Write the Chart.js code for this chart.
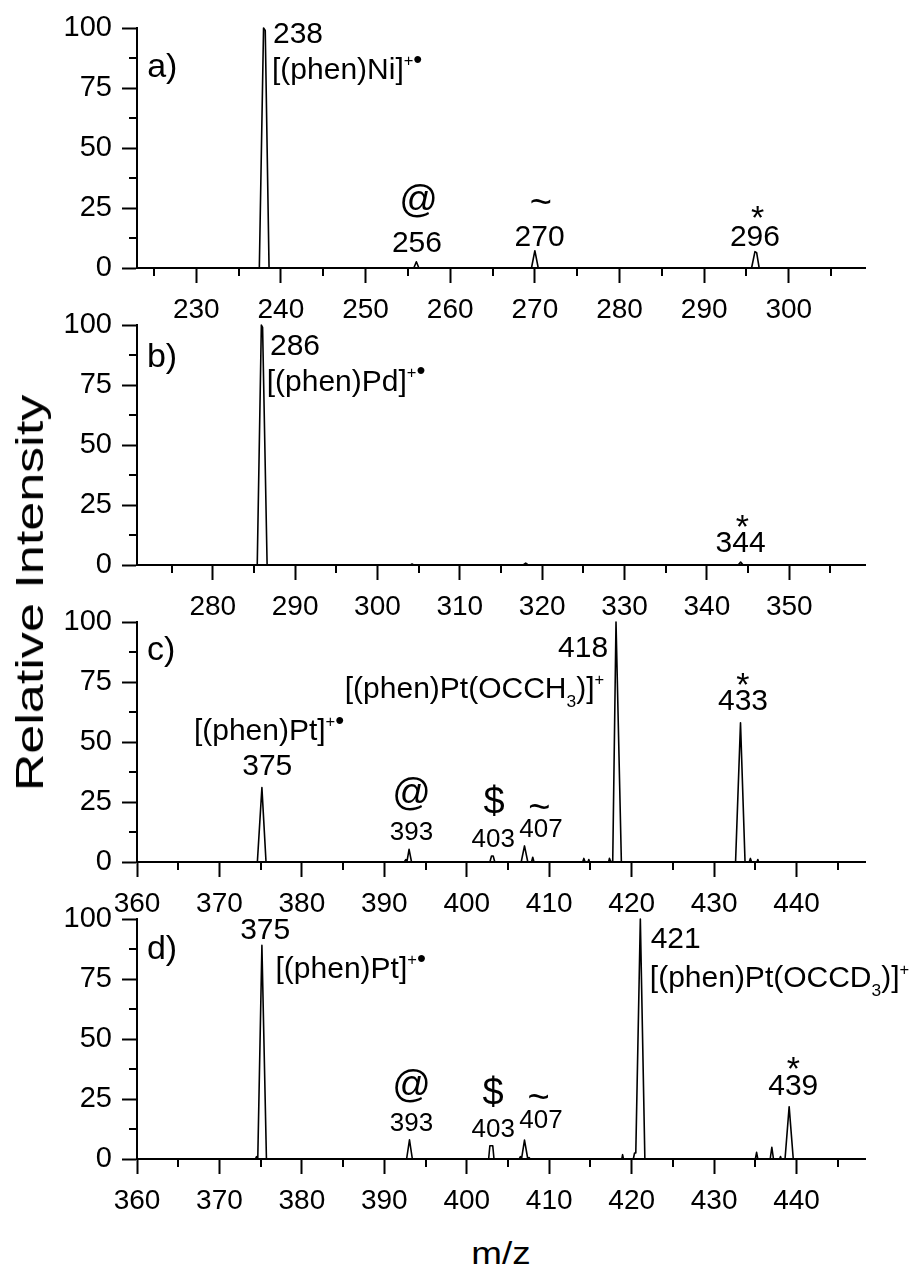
<!DOCTYPE html>
<html>
<head>
<meta charset="utf-8">
<script src="https://cdn.jsdelivr.net/npm/chart.js@4.4.0/dist/chart.umd.min.js"></script>
<style>
  body { margin: 0; background: #fff; }
  #wrap { position: relative; width: 919px; height: 1270px; font-family: "Liberation Sans", Arial, sans-serif; color: #000; }
  canvas { position: absolute; left: 0; }
  #ylab { position: absolute; left: 30px; top: 593px; font-size: 38px; line-height: 1; white-space: nowrap;
          transform: translate(-50%, -50%) rotate(-90deg) scaleX(1.37); }
  #xlab { position: absolute; left: 501px; top: 1237px; font-size: 32px; line-height: 1; white-space: nowrap;
          transform: translateX(-50%) scaleX(1.15); }
</style>
</head>
<body>
<div id="wrap">
  <canvas id="pa" width="919" height="328" style="top:0px"></canvas>
  <canvas id="pb" width="919" height="328" style="top:297px"></canvas>
  <canvas id="pc" width="919" height="328" style="top:594px"></canvas>
  <canvas id="pd" width="919" height="328" style="top:891px"></canvas>
  <div id="ylab">Relative Intensity</div>
  <div id="xlab">m/z</div>
</div>
<script>
const FONT = '"Liberation Sans", Arial, sans-serif';

// spectrum a) (phen)Ni
const mzA  = [223, 237.45, 237.95, 238.15, 238.6, 255.7, 256.0, 256.3, 269.6, 270.0, 270.4, 295.6, 296.0, 296.2, 296.5, 309];
const intA = [0,   0,      100,    99,     0,     0,     2.6,   0,     0,     7.2,   0,     0,     6.8,   6.4,   0,     0];

// spectrum b) (phen)Pd
const mzB  = [270.8, 285.4, 285.9, 286.05, 286.6, 304.0, 304.2, 304.4, 317.7, 318.0, 318.3, 343.8, 344.1, 344.4, 359.2];
const intB = [0,     0,     100,   99,     0,     0,     0.4,   0,     0,     0.8,   0,     0,     1.2,   0,     0];

// spectrum c) (phen)Pt + acetone
const mzC  = [360, 374.6, 375.15, 375.65, 392.4, 392.6, 392.75, 393.0, 393.3, 402.8, 403.0, 403.2, 403.4,
              406.6, 407.0, 407.4, 407.85, 408.0, 408.15, 414.05, 414.2, 414.35, 414.7, 414.8, 414.9,
              417.2, 417.3, 417.45, 417.7, 418.1, 418.75, 432.6, 433.2, 433.75, 434.25, 434.4, 434.55,
              435.2, 435.3, 435.4, 448.3];
const intC = [0,   0,     31,     0,      0,     1,     0.4,    5.3,   0,     0,     2.5,   2.5,   0,
              0,     6.7,   0,     0,      2,     0,      0,      1.5,   0,      0,     1,     0,
              0,     1.5,   0.3,    0,     100,   0,      0,     58,    0,      0,      1.5,   0,
              0,     1,     0,     0];

// spectrum d) (phen)Pt + acetone-d6
const mzD  = [360, 374.35, 374.5, 374.65, 375.15, 375.7, 392.7, 393.05, 393.4, 402.65, 402.8, 403.15, 403.3,
              406.35, 406.5, 406.65, 407.0, 407.4, 407.55, 407.7, 418.8, 418.9, 419.0, 420.2, 420.35, 420.5,
              421.05, 421.6, 435.0, 435.15, 435.3, 436.8, 437.0, 437.2, 437.95, 438.05, 438.15, 438.6,
              439.1, 439.6, 448.3];
const intD = [0,   0,      1,     0.4,    89,     0,     0,     8,      0,     0,      5.5,   5.5,    0,
              0,      1,     0.3,    7.9,   0,     0.6,    0,     0,     1.8,   0,     0,     2.5,    2.5,
              100,   0,     0,     2.8,    0,     0,     4.9,   0,     0,      1,      0,      0,
              21.8,  0,     0];

// axis ticks
const xTicksA = [230, 240, 250, 260, 270, 280, 290, 300];
const xMinorA = [225, 235, 245, 255, 265, 275, 285, 295, 305];
const xTicksB = [280, 290, 300, 310, 320, 330, 340, 350];
const xMinorB = [275, 285, 295, 305, 315, 325, 335, 345, 355];
const xTicksC = [360, 370, 380, 390, 400, 410, 420, 430, 440];
const xMinorC = [365, 375, 385, 395, 405, 415, 425, 435, 445];
const yTicks  = [0, 25, 50, 75, 100];
const yMinor  = [12.5, 37.5, 62.5, 87.5];

// radical cation mark: small "+" then a bullet
const RAD = [{ t: '+', k: 'sup' }, { t: '\u2022', k: 'dot' }];

Chart.defaults.font.family = FONT;
Chart.defaults.color = '#000';

function minorTicksPlugin(xm, ym) {
    return {
        id: 'minorTicks',
        afterDraw(chart) {
            const { ctx, chartArea } = chart;
            const xs = chart.scales.x, ys = chart.scales.y;
            ctx.save();
            ctx.strokeStyle = '#000';
            ctx.lineWidth = 2;
            ctx.beginPath();
            xm.forEach(v => {
                const px = Math.round(xs.getPixelForValue(v));
                ctx.moveTo(px, chartArea.bottom);
                ctx.lineTo(px, chartArea.bottom + 8);
            });
            ym.forEach(v => {
                const py = Math.round(ys.getPixelForValue(v));
                ctx.moveTo(chartArea.left - 8, py);
                ctx.lineTo(chartArea.left, py);
            });
            ctx.stroke();
            ctx.restore();
        }
    };
}

// sizes and shifts for superscript / subscript pieces
const KIND = {
    '':  { s: 1,    dy: 0 },
    sup: { s: 0.55, dy: -0.43 },
    sub: { s: 0.58, dy: 0.28 },
    dot: { s: 0.85, dy: -0.38 }
};

function notesPlugin(items) {
    return {
        id: 'notes',
        afterDraw(chart) {
            const ctx = chart.ctx;
            const xs = chart.scales.x, ys = chart.scales.y;
            ctx.save();
            ctx.fillStyle = '#000';
            ctx.textBaseline = 'alphabetic';
            ctx.textAlign = 'left';
            items.forEach(n => {
                const px = xs.getPixelForValue(n.x);
                const py = ys.getPixelForValue(n.y);
                const parts = n.parts.map(p => typeof p === 'string' ? { t: p, k: '' } : Object.assign({}, p));
                let w = 0;
                parts.forEach(p => {
                    p.s = n.size * KIND[p.k].s;
                    ctx.font = p.s + 'px ' + FONT;
                    p.w = ctx.measureText(p.t).width;
                    w += p.w;
                });
                let cx = n.align === 'center' ? px - w / 2 : px;
                parts.forEach(p => {
                    ctx.font = p.s + 'px ' + FONT;
                    ctx.fillText(p.t, cx, py + n.size * KIND[p.k].dy);
                    cx += p.w;
                });
            });
            ctx.restore();
        }
    };
}

function makePanel(id, mz, inten, xMin, xMax, majors, minors, notes) {
    const points = mz.map((m, i) => ({ x: m, y: inten[i] }));
    new Chart(document.getElementById(id), {
        type: 'line',
        data: {
            datasets: [{
                data: points,
                borderColor: '#000',
                borderWidth: 1.6,
                borderJoinStyle: 'round',
                pointRadius: 0,
                tension: 0,
                fill: false,
                clip: false
            }]
        },
        options: {
            responsive: false,
            animation: false,
            devicePixelRatio: 1,
            layout: { padding: { top: 28, right: 54, left: 0, bottom: 0 } },
            plugins: { legend: { display: false }, tooltip: { enabled: false } },
            scales: {
                x: {
                    type: 'linear',
                    min: xMin,
                    max: xMax,
                    afterBuildTicks: s => { s.ticks = majors.map(v => ({ value: v })); },
                    afterFit: s => { s.height = 60; },
                    border: { color: '#000', width: 2 },
                    grid: { drawOnChartArea: false, drawTicks: true, tickLength: 15, tickWidth: 2, tickColor: '#000' },
                    ticks: { color: '#000', font: { size: 28 }, padding: 10, maxRotation: 0, autoSkip: false,
                             callback: v => String(v) }
                },
                y: {
                    type: 'linear',
                    min: 0,
                    max: 100,
                    afterBuildTicks: s => { s.ticks = yTicks.map(v => ({ value: v })); },
                    afterFit: s => { s.width = 137; },
                    border: { color: '#000', width: 2 },
                    grid: { drawOnChartArea: false, drawTicks: true, tickLength: 15, tickWidth: 2, tickColor: '#000' },
                    ticks: { color: '#000', font: { size: 29 }, padding: 10, callback: v => String(v) }
                }
            }
        },
        plugins: [minorTicksPlugin(minors, yMinor), notesPlugin(notes)]
    });
}

// a)
makePanel('pa', mzA, intA, 223, 309, xTicksA, xMinorA, [
    { x: 224.2, y: 79.5, parts: ['a)'], align: 'left', size: 34 },
    { x: 239.06, y: 93.9, parts: ['238'], align: 'left', size: 30 },
    { x: 238.95, y: 78.7, parts: ['[(phen)Ni]', ...RAD], align: 'left', size: 30 },
    { x: 256.26, y: 23.3, parts: ['@'], align: 'center', size: 38 },
    { x: 256.07, y: 6.8, parts: ['256'], align: 'center', size: 30 },
    { x: 270.7, y: 22, parts: ['~'], align: 'center', size: 38 },
    { x: 270.56, y: 9.2, parts: ['270'], align: 'center', size: 30 },
    { x: 296.3, y: 16.4, parts: ['*'], align: 'center', size: 34 },
    { x: 296.0, y: 9.2, parts: ['296'], align: 'center', size: 30 }
]);

// b)
makePanel('pb', mzB, intB, 270.8, 359.2, xTicksB, xMinorB, [
    { x: 272.0, y: 82.6, parts: ['b)'], align: 'left', size: 34 },
    { x: 286.95, y: 87.5, parts: ['286'], align: 'left', size: 30 },
    { x: 286.55, y: 72.6, parts: ['[(phen)Pd]', ...RAD], align: 'left', size: 30 },
    { x: 344.3, y: 11.2, parts: ['*'], align: 'center', size: 34 },
    { x: 344.1, y: 5.5, parts: ['344'], align: 'center', size: 30 }
]);

// c)
makePanel('pc', mzC, intC, 360, 448.3, xTicksC, xMinorC, [
    { x: 361.2, y: 84.2, parts: ['c)'], align: 'left', size: 34 },
    { x: 366.9, y: 50.8, parts: ['[(phen)Pt]', ...RAD], align: 'left', size: 30 },
    { x: 375.8, y: 36.2, parts: ['375'], align: 'center', size: 30 },
    { x: 393.3, y: 23.7, parts: ['@'], align: 'center', size: 38 },
    { x: 393.3, y: 9.2, parts: ['393'], align: 'center', size: 26 },
    { x: 403.3, y: 20.1, parts: ['$'], align: 'center', size: 38 },
    { x: 403.2, y: 6.4, parts: ['403'], align: 'center', size: 26 },
    { x: 408.8, y: 17.5, parts: ['~'], align: 'center', size: 38 },
    { x: 409.0, y: 10.3, parts: ['407'], align: 'center', size: 26 },
    { x: 414.1, y: 85.5, parts: ['418'], align: 'center', size: 30 },
    { x: 385.2, y: 68.2, parts: ['[(phen)Pt(OCCH', { t: '3', k: 'sub' }, ')]', { t: '+', k: 'sup' }], align: 'left', size: 30 },
    { x: 433.5, y: 69.3, parts: ['*'], align: 'center', size: 34 },
    { x: 433.5, y: 63.3, parts: ['433'], align: 'center', size: 30 }
]);

// d)
makePanel('pd', mzD, intD, 360, 448.3, xTicksC, xMinorC, [
    { x: 361.2, y: 83.2, parts: ['d)'], align: 'left', size: 34 },
    { x: 375.55, y: 91.5, parts: ['375'], align: 'center', size: 30 },
    { x: 376.8, y: 75.3, parts: ['[(phen)Pt]', ...RAD], align: 'left', size: 30 },
    { x: 393.3, y: 25.8, parts: ['@'], align: 'center', size: 38 },
    { x: 393.3, y: 11.8, parts: ['393'], align: 'center', size: 26 },
    { x: 403.2, y: 22.4, parts: ['$'], align: 'center', size: 38 },
    { x: 403.2, y: 9.3, parts: ['403'], align: 'center', size: 26 },
    { x: 408.7, y: 20.4, parts: ['~'], align: 'center', size: 38 },
    { x: 409.0, y: 12.8, parts: ['407'], align: 'center', size: 26 },
    { x: 422.3, y: 88, parts: ['421'], align: 'left', size: 30 },
    { x: 422.2, y: 71.5, parts: ['[(phen)Pt(OCCD', { t: '3', k: 'sub' }, ')]', { t: '+', k: 'sup' }], align: 'left', size: 30 },
    { x: 439.6, y: 33.0, parts: ['*'], align: 'center', size: 34 },
    { x: 439.6, y: 26.7, parts: ['439'], align: 'center', size: 30 }
]);
</script>
</body>
</html>
